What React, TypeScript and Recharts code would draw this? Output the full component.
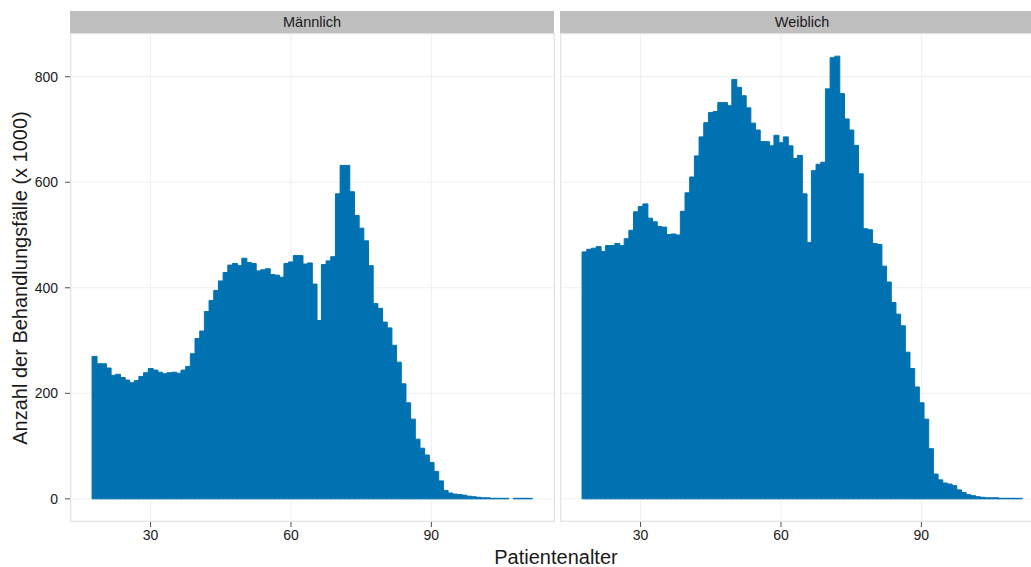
import { BarChart, Bar, XAxis, YAxis, CartesianGrid } from 'recharts';

// Patient age in years, one bar per year
const ages = [
  18, 19, 20, 21, 22, 23, 24, 25, 26, 27, 28, 29, 30, 31, 32, 33, 34, 35, 36, 37,
  38, 39, 40, 41, 42, 43, 44, 45, 46, 47, 48, 49, 50, 51, 52, 53, 54, 55, 56, 57,
  58, 59, 60, 61, 62, 63, 64, 65, 66, 67, 68, 69, 70, 71, 72, 73, 74, 75, 76, 77,
  78, 79, 80, 81, 82, 83, 84, 85, 86, 87, 88, 89, 90, 91, 92, 93, 94, 95, 96, 97,
  98, 99, 100, 101, 102, 103, 104, 105, 106, 107, 108, 109, 110, 111,
];

// Treatment cases (x 1000), men
const maleCases = [
  270, 256, 256, 248, 234, 236, 230, 225, 220, 224, 232, 239, 247, 244, 240, 237, 239, 240, 238, 244,
  251, 275, 304, 318, 355, 376, 395, 413, 429, 443, 446, 442, 456, 448, 446, 432, 434, 436, 425, 424,
  420, 446, 449, 461, 461, 445, 447, 407, 338, 444, 451, 459, 578, 632, 632, 582, 537, 513, 489, 442,
  370, 361, 335, 324, 291, 259, 218, 182, 151, 113, 96, 83, 69, 52, 34, 16, 11, 9, 8, 7,
  5, 4, 3, 2, 2, 1, 1, 1, 1, 0, 1, 1, 1, 1,
];

// Treatment cases (x 1000), women
const femaleCases = [
  468, 473, 475, 478, 469, 480, 480, 484, 480, 493, 509, 544, 554, 559, 532, 525, 516, 515, 501, 502,
  500, 545, 580, 610, 650, 686, 713, 732, 734, 751, 751, 745, 795, 780, 764, 741, 712, 699, 677, 677,
  669, 689, 675, 686, 669, 645, 651, 578, 486, 622, 634, 638, 777, 836, 839, 768, 720, 699, 670, 616,
  512, 510, 484, 482, 441, 411, 372, 350, 328, 278, 247, 212, 182, 151, 95, 47, 36, 30, 28, 25,
  17, 12, 8, 6, 4, 3, 2, 2, 2, 1, 1, 1, 1, 1,
];

const xTicks = [30, 60, 90];
const yTicks = [0, 200, 400, 600, 800];
const panels = ['Männlich', 'Weiblich'];

const maleData = ages.map((age, i) => ({ age, cases: maleCases[i] }));
const femaleData = ages.map((age, i) => ({ age, cases: femaleCases[i] }));

const BAR = '#0072B2';
const GRID = '#EFEFEF';
const TICK_TEXT = { fontSize: 14, fill: '#1a1a1a' };
const X_DOMAIN: [number, number] = [13, 116.2];
const Y_DOMAIN: [number, number] = [-42, 881];

const PANEL_TOP = 34;
const PANEL_H = 487;
const PANEL_W = 483;
const LEFT_X = 71;
const RIGHT_X = 561;

function Panel({ data, withY }: { data: { age: number; cases: number }[]; withY: boolean }) {
  const yw = withY ? LEFT_X : 0;
  return (
    <BarChart
      width={PANEL_W + yw}
      height={PANEL_H + 46}
      data={data}
      margin={{ top: 0, right: 0, bottom: 0, left: 0 }}
      barCategoryGap={0}
      barGap={0}
    >
      <CartesianGrid stroke={GRID} strokeWidth={1} />
      <XAxis
        dataKey="age"
        type="number"
        domain={X_DOMAIN}
        allowDataOverflow
        ticks={xTicks}
        interval={0}
        height={46}
        axisLine={false}
        tickSize={6}
        tickMargin={3}
        tickLine={{ stroke: '#4d4d4d' }}
        tick={TICK_TEXT}
      />
      <YAxis
        hide={!withY}
        width={yw}
        domain={Y_DOMAIN}
        allowDataOverflow
        ticks={yTicks}
        interval={0}
        axisLine={false}
        tickSize={6}
        tickMargin={7}
        tickLine={{ stroke: '#4d4d4d' }}
        tick={TICK_TEXT}
      />
      <Bar
        dataKey="cases"
        fill={BAR}
        stroke={BAR}
        strokeWidth={1}
        isAnimationActive={false}
      />
    </BarChart>
  );
}

export default function App() {
  const strips = [LEFT_X, RIGHT_X];
  return (
    <div
      style={{
        position: 'fixed',
        top: 0,
        left: 0,
        width: 1031,
        height: 567,
        overflow: 'hidden',
        background: '#fff',
        fontFamily: '"Liberation Sans", Arial, sans-serif',
        color: '#1a1a1a',
      }}
    >
      <div style={{ position: 'absolute', left: 0, top: PANEL_TOP }}>
        <Panel data={maleData} withY />
      </div>
      <div style={{ position: 'absolute', left: RIGHT_X, top: PANEL_TOP }}>
        <Panel data={femaleData} withY={false} />
      </div>

      {strips.map((x, i) => (
        <div key={panels[i]}>
          <div
            style={{
              position: 'absolute',
              left: x - 1,
              top: 11,
              width: PANEL_W + 1,
              height: 22,
              background: '#BFBFBF',
              fontSize: 14.5,
              lineHeight: '22px',
              textAlign: 'center',
            }}
          >
            {panels[i]}
          </div>
          <div
            style={{
              position: 'absolute',
              left: x - 1,
              top: PANEL_TOP - 1,
              width: PANEL_W + 2,
              height: PANEL_H + 2,
              boxSizing: 'border-box',
              border: '1px solid #E3E3E3',
              pointerEvents: 'none',
            }}
          />
        </div>
      ))}

      <div
        style={{
          position: 'absolute',
          left: 20,
          top: 278,
          transform: 'translate(-50%, -50%) rotate(-90deg)',
          whiteSpace: 'nowrap',
          fontSize: 20,
        }}
      >
        Anzahl der Behandlungsfälle (x 1000)
      </div>
      <div
        style={{
          position: 'absolute',
          left: 406,
          width: 300,
          top: 546,
          textAlign: 'center',
          fontSize: 20,
          lineHeight: '22px',
        }}
      >
        Patientenalter
      </div>
    </div>
  );
}
